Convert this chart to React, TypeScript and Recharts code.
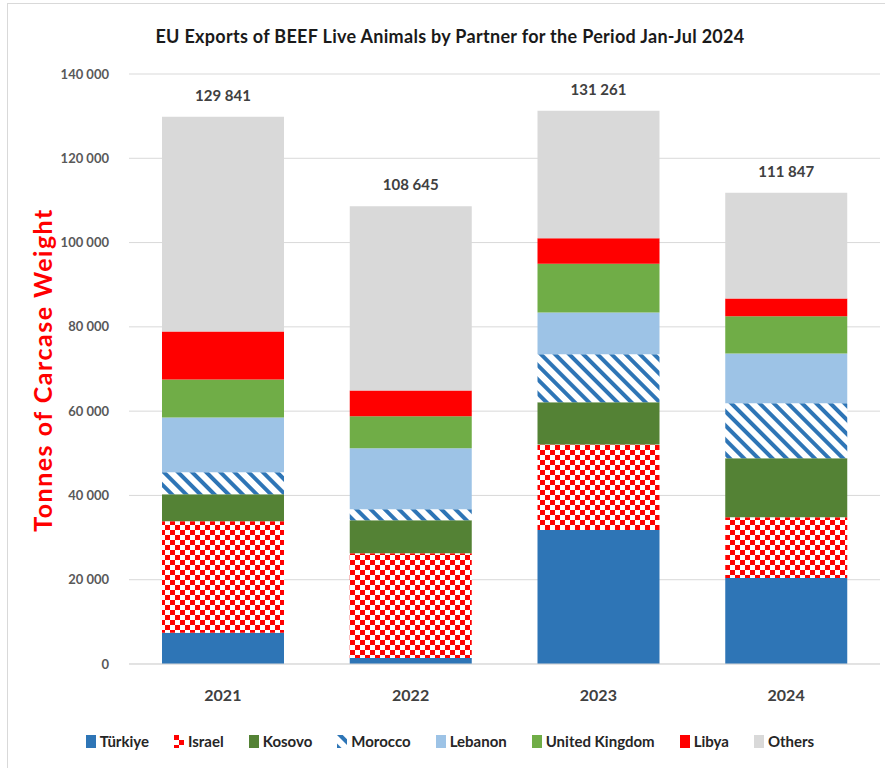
import React from 'react';
import { BarChart, Bar, XAxis, YAxis, CartesianGrid, LabelList } from 'recharts';

const years = ['2021', '2022', '2023', '2024'];
const turkiye = [7400, 1400, 31800, 20400];
const israel = [26500, 24900, 20300, 14400];
const kosovo = [6400, 7800, 10000, 14000];
const morocco = [5200, 2600, 11400, 13100];
const lebanon = [13000, 14500, 9900, 11800];
const uk = [9000, 7600, 11600, 8800];
const libya = [11400, 6100, 6000, 4200];
const totals = [129841, 108645, 131261, 111847];
const yTicks = [0, 20000, 40000, 60000, 80000, 100000, 120000, 140000];

const data = years.map((year, i) => {
  const known = turkiye[i] + israel[i] + kosovo[i] + morocco[i] + lebanon[i] + uk[i] + libya[i];
  return {
    year,
    turkiye: turkiye[i],
    israel: israel[i],
    kosovo: kosovo[i],
    morocco: morocco[i],
    lebanon: lebanon[i],
    uk: uk[i],
    libya: libya[i],
    others: totals[i] - known,
    total: totals[i],
  };
});

const series = [
  { key: 'turkiye', name: 'Türkiye', fill: '#2e75b6' },
  { key: 'israel', name: 'Israel', fill: 'url(#checkRed)' },
  { key: 'kosovo', name: 'Kosovo', fill: '#548235' },
  { key: 'morocco', name: 'Morocco', fill: 'url(#stripeBlue)' },
  { key: 'lebanon', name: 'Lebanon', fill: '#9dc3e6' },
  { key: 'uk', name: 'United Kingdom', fill: '#70ad47' },
  { key: 'libya', name: 'Libya', fill: '#ff0000' },
  { key: 'others', name: 'Others', fill: '#d9d9d9' },
];

const font = 'Lato, Carlito, "Open Sans", sans-serif';
const fmt = (v: number) => String(v).replace(/\B(?=(\d{3})+(?!\d))/g, ' ');

function Patterns() {
  return (
    <defs>
      <pattern id="checkRed" width="10" height="10" patternUnits="userSpaceOnUse">
        <rect width="10" height="10" fill="#ffffff" />
        <rect x="0" y="0" width="5" height="5" fill="#ff0000" />
        <rect x="5" y="5" width="5" height="5" fill="#ff0000" />
      </pattern>
      <pattern id="stripeBlue" width="10" height="10" patternUnits="userSpaceOnUse" patternTransform="rotate(-45)">
        <rect width="10" height="10" fill="#ffffff" />
        <rect x="0" y="0" width="4" height="10" fill="#2e75b6" />
      </pattern>
    </defs>
  );
}

function LegendIcon({ fill }: { fill: string }) {
  return (
    <svg width="10" height="13" style={{ marginRight: 4 }}>
      <Patterns />
      <rect x="0" y="0" width="10" height="13" fill={fill} />
    </svg>
  );
}

export default function App() {
  return (
    <div style={{ position: 'fixed', left: 0, top: 0, width: 885, height: 768, background: '#fff', fontFamily: font, overflow: 'hidden' }}>
      <div style={{ position: 'absolute', left: 7, top: 3, width: 900, height: 800, border: '1px solid #d9d9d9' }} />
      <div
        style={{
          position: 'absolute', left: 0, width: 900, top: 25, textAlign: 'center', fontSize: 18, fontWeight: 700,
          letterSpacing: 0.3, color: '#1a1a1a',
        }}
      >
        EU Exports of BEEF Live Animals by Partner for the Period Jan-Jul 2024
      </div>
      <div
        style={{
          position: 'absolute', left: 42, top: 370, transform: 'translate(-50%, -50%) rotate(-90deg)',
          whiteSpace: 'nowrap', fontSize: 25, fontWeight: 700, letterSpacing: 1.5, color: '#ff0000',
        }}
      >
        Tonnes of Carcase Weight
      </div>
      <div style={{ position: 'absolute', left: 0, top: 0 }}>
        <BarChart width={885} height={768} data={data} margin={{ top: 74, right: 5, bottom: 64, left: 0 }} barSize={122}>
          <Patterns />
          <CartesianGrid vertical={false} stroke="#d9d9d9" />
          <XAxis
            dataKey="year" height={40} tickLine={false} axisLine={{ stroke: '#d9d9d9' }} tickMargin={20}
            tick={{ fill: '#404040', fontSize: 16, fontWeight: 700, fontFamily: font }}
          />
          <YAxis
            width={129} domain={[0, 140000]} ticks={yTicks} tickFormatter={fmt} axisLine={false} tickLine={false}
            tickMargin={14} tick={{ fill: '#595959', fontSize: 13, fontWeight: 700, fontFamily: font }}
          />
          {series.map((s) => (
            <Bar key={s.key} dataKey={s.key} name={s.name} stackId="a" fill={s.fill} isAnimationActive={false}>
              {s.key === 'others' && (
                <LabelList
                  dataKey="total" position="top" offset={16} formatter={(v: any) => fmt(Number(v))}
                  style={{ fill: '#404040', fontSize: 15, fontWeight: 700, fontFamily: font }}
                />
              )}
            </Bar>
          ))}
        </BarChart>
      </div>
      <div
        style={{
          position: 'absolute', left: 0, width: 900, top: 732, display: 'flex', justifyContent: 'center', gap: 25,
          fontSize: 15, fontWeight: 700, color: '#262626',
        }}
      >
        {series.map((s) => (
          <div key={s.key} style={{ display: 'flex', alignItems: 'center' }}>
            <LegendIcon fill={s.fill} />
            {s.name}
          </div>
        ))}
      </div>
    </div>
  );
}
